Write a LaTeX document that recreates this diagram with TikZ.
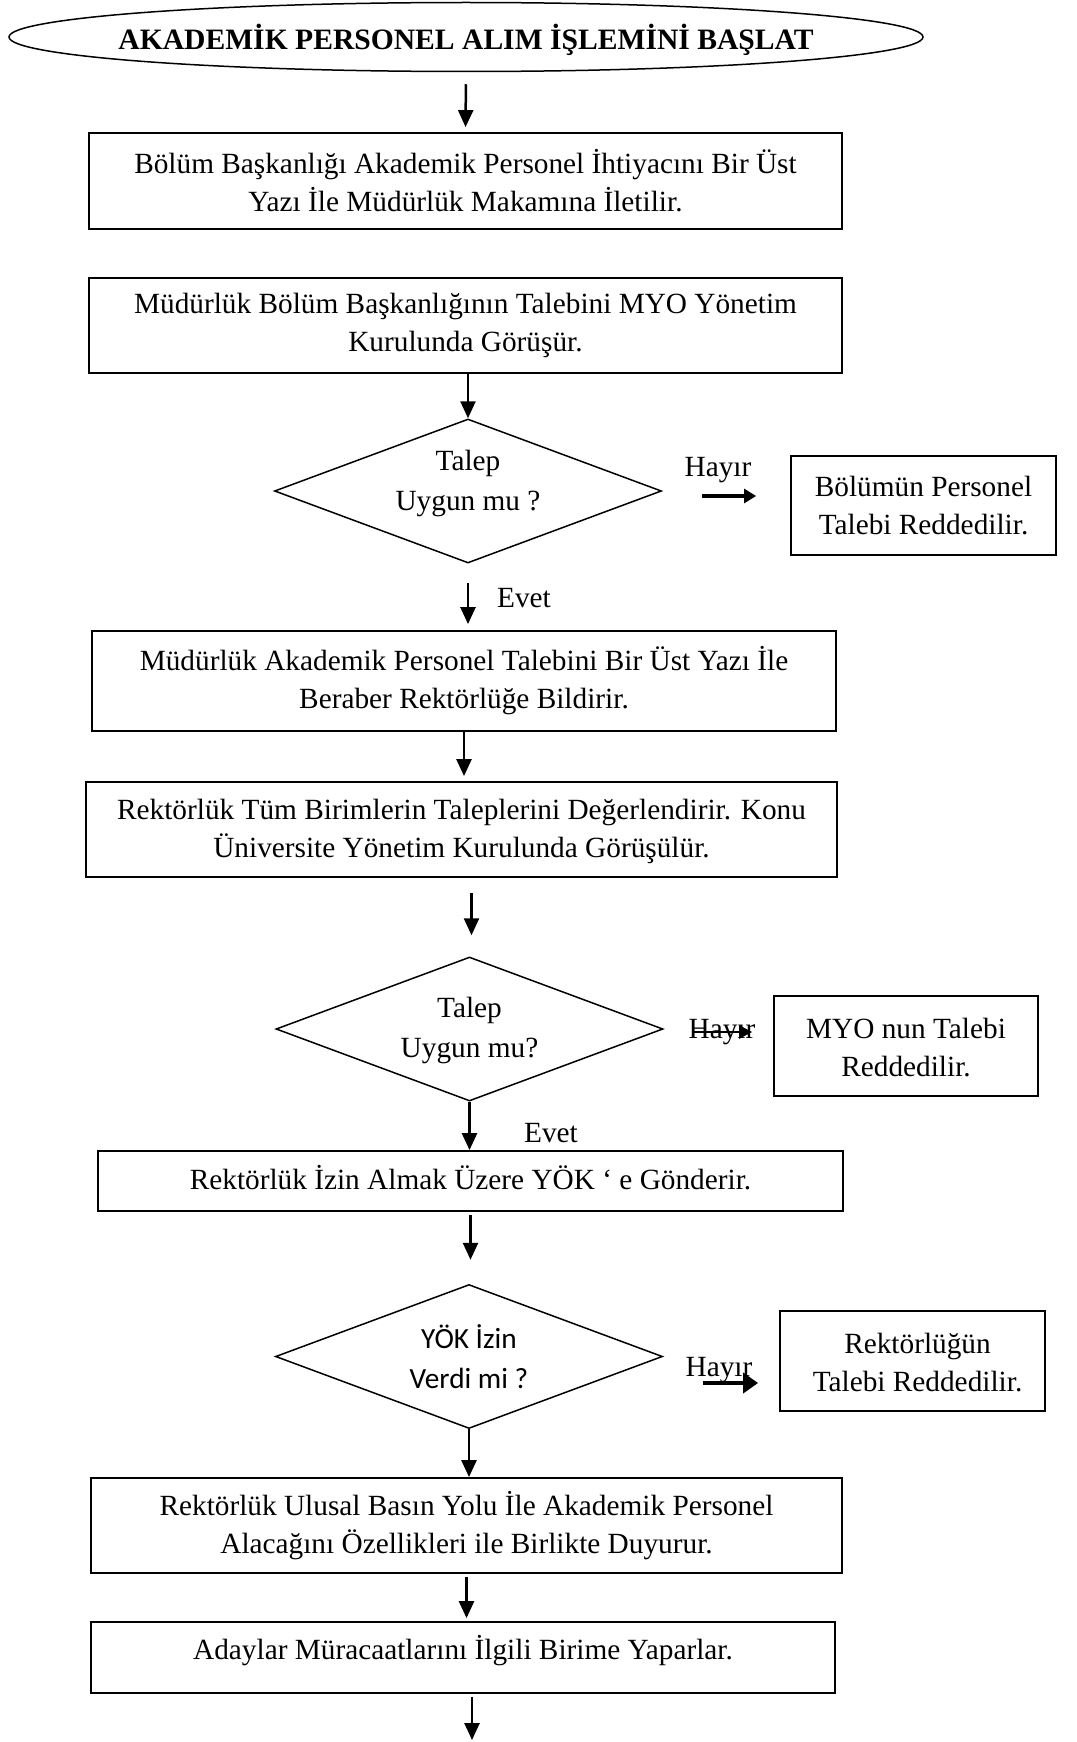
\documentclass[tikz,border=0pt]{standalone}
\usepackage{fontspec}
\setmainfont{Liberation Serif}
\newfontfamily\calib{Carlito}
\usetikzlibrary{shapes.geometric,arrows.meta}
\begin{document}
\begin{tikzpicture}[x=1pt,y=-1pt,
  every node/.style={font=\fontsize{29.3}{38}\selectfont, align=center, inner sep=0pt},
  box/.style={draw, line width=1.8pt, rectangle},
  dia/.style={draw, line width=1.5pt, diamond, minimum width=387pt, minimum height=144pt},
  diatext/.style={font=\fontsize{29.3}{40}\selectfont},
  arr/.style={line width=2.5pt, -{Triangle[length=17pt,width=15pt]}},
  noarr/.style={line width=3.5pt, -{Triangle[length=12pt,width=14pt]}}
]
\useasboundingbox (0,0) rectangle (1076,1742);

% start terminator
\node[ellipse, draw, line width=1.5pt, minimum width=914pt, minimum height=69pt] (start) at (466,37) {};
\node[font=\fontsize{29.6}{38}\selectfont\bfseries] (startt) at ([yshift=-3pt]start.center) {AKADEMİK PERSONEL ALIM İŞLEMİNİ BAŞLAT};

% process boxes
\node[box, minimum width=753pt, minimum height=96pt] (b1) at (465.5,181)
  {Bölüm Başkanlığı Akademik Personel İhtiyacını Bir Üst\\Yazı İle Müdürlük Makamına İletilir.};
\node[box, minimum width=753pt, minimum height=95pt] (b2) at (465.5,325.5)
  {Müdürlük Bölüm Başkanlığının Talebini MYO Yönetim\\Kurulunda Görüşür.};

% first decision
\node[dia] (d1) at (468,491) {};
\node[diatext] (d1t) at ([yshift=8pt]d1.center) {Talep\\Uygun mu ?};
\node[box, minimum width=265pt, minimum height=99pt] (r1) at (923.5,505.5)
  {Bölümün Personel\\Talebi Reddedilir.};
\node (h1) at (718,470) {Hayır};
\node (e1) at (524,598) {Evet};

\node[box, minimum width=744pt, minimum height=100pt] (b3) at (464,681)
  {Müdürlük Akademik Personel Talebini Bir Üst Yazı İle\\Beraber Rektörlüğe Bildirir.};
\node[box, minimum width=751pt, minimum height=95pt] (b4) at (461.5,829.5) {};
\node (b4t) at ([yshift=-2pt]b4.center)
  {Rektörlük Tüm Birimlerin Taleplerini Değerlendirir. Konu\\Üniversite Yönetim Kurulunda Görüşülür.};

% second decision
\node[dia] (d2) at (469.5,1029) {};
\node[diatext] (d2t) at ([yshift=-1pt]d2.center) {Talep\\Uygun mu?};
\node[box, minimum width=264pt, minimum height=100pt] (r2) at (906,1046) {};
\node (r2t) at ([yshift=-1.5pt]r2.center) {MYO nun Talebi\\Reddedilir.};
\node (h2) at (722,1032) {Hayır};
\node (e2) at (551,1133) {Evet};

\node[box, minimum width=745pt, minimum height=60pt] (b5) at (470.5,1181) {};
\node (b5t) at ([yshift=3pt]b5.center) {Rektörlük İzin Almak Üzere YÖK ‘ e Gönderir.};

% third decision
\node[dia] (d3) at (469,1356.5) {};
\node[font=\fontsize{29.3}{40}\calib] (d3t) at (d3.center) {YÖK İzin\\Verdi mi ?};
\node[box, minimum width=265pt, minimum height=100pt] (r3) at (912.5,1361) {};
\node (r3t) at ([xshift=5pt,yshift=-2pt]r3.center) {Rektörlüğün\\Talebi Reddedilir.};
\node (h3) at (719,1370) {Hayır};

\node[box, minimum width=751pt, minimum height=95pt] (b6) at (466.5,1525.5)
  {Rektörlük Ulusal Basın Yolu İle Akademik Personel\\Alacağını Özellikleri ile Birlikte Duyurur.};
\node[box, minimum width=744pt, minimum height=71pt] (b7) at (463,1657.5) {};
\node (b7t) at ([yshift=7pt]b7.center) {Adaylar Müracaatlarını İlgili Birime Yaparlar.};
\coordinate (fin) at (472,1740);

% main flow
\draw[arr, shorten <=12pt, shorten >=5pt] (start.south) -- (b1.north);
\draw[arr] (d1.north |- b2.south) -- (d1.north);
\draw[arr, shorten <=19pt, shorten >=6pt] (d1.south) -- (d1.south |- b3.north);
\draw[arr, shorten >=5pt] (b3.south) -- (b3.south |- b4.north);
\draw[arr, shorten <=15pt, shorten >=21pt] ([xshift=10pt]b4.south) -- ([xshift=10pt]b4.south |- d2.north);
\draw[arr] (d2.south) -- (d2.south |- b5.north);
\draw[arr, shorten <=3pt, shorten >=24pt] (b5.south) -- (b5.south |- d3.north);
\draw[arr] (d3.south) -- (d3.south |- b6.north);
\draw[arr, shorten <=3pt, shorten >=3pt] (b6.south) -- (b6.south |- b7.north);
\draw[arr, shorten <=3pt] ([xshift=9pt]b7.south) -- (fin);

% rejection branches
\draw[noarr, shorten <=40pt, shorten >=34pt] ([yshift=-5pt]d1.east) -- ([yshift=-5pt]d1.east -| r1.west);
\draw[line width=2.5pt, -{Triangle[length=13pt,width=13pt]}, shorten <=29pt, shorten >=21pt]
  ([yshift=-3pt]d2.east) -- ([yshift=-3pt]d2.east -| r2.west);
\draw[line width=4pt, -{Triangle[length=15pt,width=20pt]}, shorten <=40pt, shorten >=21pt]
  ([yshift=-26.5pt]d3.east) -- ([yshift=-26.5pt]d3.east -| r3.west);
\end{tikzpicture}
\end{document}
